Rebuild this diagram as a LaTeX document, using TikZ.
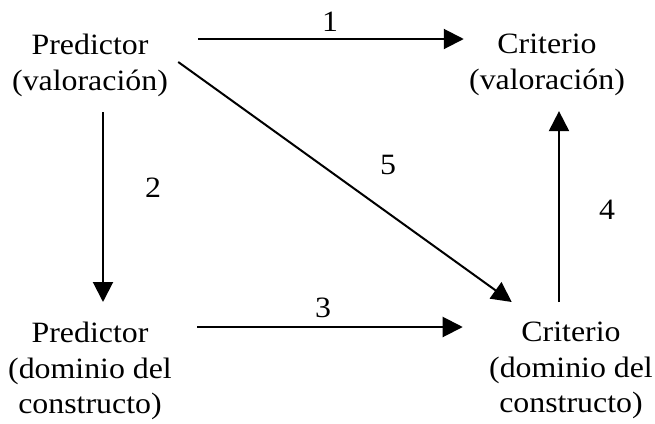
\documentclass[tikz,border=0pt]{standalone}
\usepackage{fontspec}
\setmainfont{Liberation Serif}[FakeStretch=1.08]
\usetikzlibrary{arrows.meta}

\begin{document}
\begin{tikzpicture}[
    x=0.5pt, y=-0.5pt,
    box/.style={anchor=north, inner sep=0pt, align=center, font=\fontsize{14.75pt}{17.75pt}\selectfont},
    num/.style={inner sep=0pt, font=\fontsize{14.75pt}{17.75pt}\selectfont},
    arr/.style={-{Triangle[length=10pt, width=10pt]}, line width=1pt},
  ]
    \useasboundingbox (0,0) rectangle (655,424);

    \node[box] (pv) at (90,34) {Predictor\\(valoración)};
    \node[box] (cv) at (547,34) {Criterio\\(valoración)};
    \node[box] (pd) at (90,322) {Predictor\\(dominio del\\constructo)};
    \node[box] (cd) at (571,322) {Criterio\\(dominio del\\constructo)};

    \draw[arr] ([shift={(30,5)}]pv.north east) -- ([shift={(-5,5)}]cv.north west);
    \draw[arr] ([shift={(13,15)}]pv.south) -- ([shift={(13,-20)}]pd.north);
    \draw[arr] ([shift={(25,5)}]pd.north east) -- ([shift={(-26,5)}]cd.north west);
    \draw[arr] ([shift={(-12,-20)}]cd.north) -- ([shift={(12,15)}]cv.south);
    \draw[arr] ([shift={(10,28)}]pv.north east) -- ([shift={(23,-20)}]cd.north west);

    \node[num] (n1) at (330,22) {1};
    \node[num] (n2) at (153,188) {2};
    \node[num] (n3) at (323,308) {3};
    \node[num] (n4) at (607,210) {4};
    \node[num] (n5) at (388,165) {5};
  \end{tikzpicture}
\end{document}
